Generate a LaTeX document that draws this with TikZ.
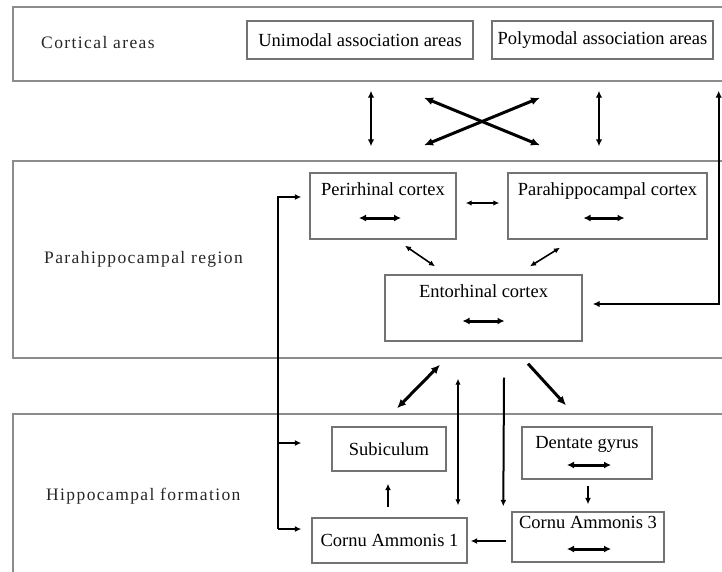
\documentclass[tikz,border=0pt]{standalone}
\usepackage{fontspec}
\setmainfont{Liberation Serif}
\newfontfamily\spacedfont{Liberation Serif}[LetterSpace=8]
\usetikzlibrary{arrows.meta}

\tikzset{
  region/.style={draw=black!45, line width=2pt, anchor=north west, inner sep=0pt},
  regionlabel/.style={anchor=west, inner sep=0pt, text=black!85,
    font=\spacedfont\fontsize{17.5}{20}\selectfont},
  box/.style={draw=black!55, line width=1.4pt, inner sep=0pt,
    font=\fontsize{18.5}{21}\selectfont},
  dbl/.style={{Latex[length=7pt, width=6.5pt]}-{Latex[length=7pt, width=6.5pt]}, line width=2.2pt},
  heavy/.style={{Latex[length=9pt, width=8pt]}-{Latex[length=9pt, width=8pt]}, line width=3pt},
  fine/.style={{Latex[length=6pt, width=5.5pt]}-{Latex[length=6pt, width=5.5pt]}, line width=1.6pt},
  midarrow/.style={{Latex[length=7pt, width=7pt]}-{Latex[length=7pt, width=7pt]}, line width=3pt},
  onetip/.style={-{Latex[length=6.5pt, width=6pt]}}
}

\begin{document}
\begin{tikzpicture}[x=1pt, y=-1pt]
    \useasboundingbox (0,0) rectangle (722,571);
    \clip (0,0) rectangle (722,571);

    % the three regions
    \node[region, minimum width=728pt, minimum height=74pt] (cortical) at (12,6) {};
    \node[region, minimum width=728pt, minimum height=197pt] (parahip) at (12,160) {};
    \node[region, minimum width=728pt, minimum height=200pt] (hippo) at (12,413) {};

    \node[regionlabel] (cortical lbl) at (41,43) {Cortical areas};
    \node[regionlabel] (parahip lbl) at (44,259) {Parahippocampal region};
    \node[regionlabel] (hippo lbl) at (46,496) {Hippocampal formation};

    % areas
    \node[box, minimum width=226pt, minimum height=38pt] (uni) at (360,40) {Unimodal association areas};
    \node[box, minimum width=221pt, minimum height=38pt] (poly) at (602.5,40) {Polymodal association areas};
    \node[box, minimum width=146pt, text height=22pt, text depth=44pt] (peri) at (383,206) {Perirhinal cortex};
    \node[box, minimum width=199pt, text height=22pt, text depth=44pt] (parac) at (607.5,206) {Parahippocampal cortex};
    \node[box, minimum width=197pt, text height=22pt, text depth=44pt] (ento) at (483.5,308) {Entorhinal cortex};
    \node[box, minimum width=114pt, minimum height=44pt] (sub) at (389,449) {Subiculum};
    \node[box, minimum width=130pt, text height=21pt, text depth=31pt] (dg) at (587,453) {Dentate gyrus};
    \node[box, minimum width=155pt, minimum height=45pt] (ca1) at (389.5,540.5) {Cornu Ammonis 1};
    \node[box, minimum width=152pt, text height=16pt, text depth=34pt] (ca3) at (588,537) {Cornu Ammonis 3};

    % arrows inside the boxes
    \draw[midarrow] ([shift={(-24,12)}]peri.center) -- ([shift={(18,12)}]peri.center);
    \draw[midarrow] ([shift={(-24,12)}]parac.center) -- ([shift={(17,12)}]parac.center);
    \draw[midarrow] ([shift={(-21,13)}]ento.center) -- ([shift={(21,13)}]ento.center);
    \draw[midarrow] ([shift={(-20,12)}]dg.center) -- ([shift={(24,12)}]dg.center);
    \draw[midarrow] ([shift={(-21,12)}]ca3.center) -- ([shift={(23,12)}]ca3.center);

    % cortical areas <-> parahippocampal region
    \draw[dbl] ([shift={(11,31)}]uni.south) -- ([shift={(-12,-26)}]peri.north);
    \draw[heavy] ([shift={(64,38)}]uni.south) -- ([shift={(-67.5,-27)}]parac.north);
    \draw[heavy] ([shift={(-62.5,38)}]poly.south) -- ([shift={(41,-27)}]peri.north);
    \draw[dbl] ([shift={(-3.5,31)}]poly.south) -- ([shift={(-8.5,-26)}]parac.north);
    \draw[dbl] ([shift={(10,-4)}]ento.east) -| ([shift={(5,31)}]poly.south east);

    % inside the parahippocampal region
    \draw[fine] ([shift={(9,-3)}]peri.east) -- ([shift={(-8,-3)}]parac.west);
    \draw[fine] ([shift={(22,6)}]peri.south) -- ([shift={(-48.5,-8)}]ento.north);
    \draw[fine] ([shift={(-47.5,8)}]parac.south) -- ([shift={(46.5,-8)}]ento.north);

    % parahippocampal region <-> hippocampal formation
    \draw[heavy] ([shift={(-43.5,23)}]ento.south) -- ([shift={(8,-18)}]sub.north);
    \draw[fine, line width=2pt] ([shift={(-25.5,37)}]ento.south) -- ([shift={(68.5,-12)}]ca1.north);
    \draw[onetip, line width=2pt] ([shift={(20.5,36)}]ento.south) -- ([shift={(-8,-5)}]ca3.north west);
    \draw[line width=3pt, -{Latex[length=9pt, width=8pt]}] ([shift={(44.5,22)}]ento.south) -- ([shift={(-21,-21)}]dg.north);

    % long feedback line on the left
    \draw[onetip, line width=2.2pt] ([shift={(-33,-11.5)}]ca1.west) |- ([shift={(-8,-9)}]peri.west);
    \draw[onetip, line width=1.8pt] ([shift={(-53,-6)}]sub.west) -- ([shift={(-30,-6)}]sub.west);
    \draw[onetip, line width=1.8pt] ([shift={(-33,-11.5)}]ca1.west) -- ([shift={(-10,-11.5)}]ca1.west);

    % inside the hippocampal formation
    \draw[onetip, line width=1.6pt] ([shift={(-1.5,-10)}]ca1.north) -- ([shift={(-1,12)}]sub.south);
    \draw[onetip, line width=1.6pt] ([shift={(1,6)}]dg.south) -- ([shift={(0,-7)}]ca3.north);
    \draw[onetip, line width=1.8pt] ([shift={(-5,4)}]ca3.west) -- ([shift={(3,0.5)}]ca1.east);
\end{tikzpicture}
\end{document}
